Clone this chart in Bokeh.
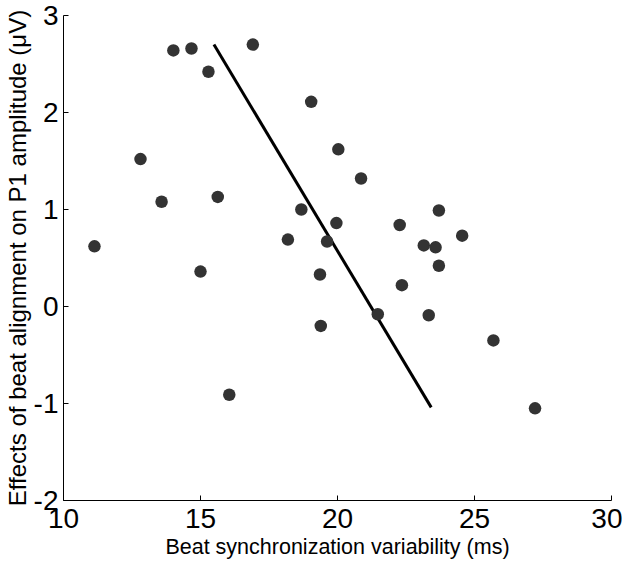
from bokeh.plotting import figure
from bokeh.models import Range1d, FixedTicker
from bokeh.embed import file_html
from bokeh.resources import INLINE

# Data
variability_ms = [11.13, 12.81, 13.58, 14.01, 14.67, 15.29, 15.00, 15.63, 16.05, 16.91,
                  19.04, 18.19, 18.68, 19.36, 19.39, 20.03, 20.86, 19.96, 19.62, 22.27,
                  23.70, 24.55, 23.15, 23.58, 23.70, 22.35, 21.47, 23.33, 25.69, 27.21]
p1_effect_uv = [0.62, 1.52, 1.08, 2.64, 2.66, 2.42, 0.36, 1.13, -0.91, 2.70,
                2.11, 0.69, 1.00, 0.33, -0.20, 1.62, 1.32, 0.86, 0.67, 0.84,
                0.99, 0.73, 0.63, 0.61, 0.42, 0.22, -0.08, -0.09, -0.35, -1.05]
fit_x = [15.49, 23.42]
fit_y = [2.70, -1.04]
x_ticks = [10, 15, 20, 25, 30]
y_ticks = [-2, -1, 0, 1, 2, 3]
y_tick_labels = ["-2", "-1", "0", "1", "2", "3"]

FONT = "Liberation Sans"

p = figure(width=622, height=568, output_backend="svg", toolbar_location=None,
           x_range=Range1d(10, 30), y_range=Range1d(-2, 3),
           min_border_left=63, min_border_right=11, min_border_top=15, min_border_bottom=68)

p.outline_line_color = None
p.xgrid.grid_line_color = None
p.ygrid.grid_line_color = None
p.background_fill_color = "white"
p.border_fill_color = "white"

p.line(fit_x, fit_y, line_color="black", line_width=3)
p.scatter(variability_ms, p1_effect_uv, size=12.5, fill_color="#333333", line_color=None)

for ax in (p.xaxis[0], p.yaxis[0]):
    ax.axis_line_color = "black"
    ax.axis_line_width = 1
    ax.major_tick_line_color = "black"
    ax.major_tick_in = 5
    ax.major_tick_out = 0
    ax.minor_tick_line_color = None
    ax.major_label_text_font = FONT
    ax.major_label_text_font_size = "28px"
    ax.major_label_text_color = "black"
    ax.axis_label_text_font = FONT
    ax.axis_label_text_font_style = "normal"
    ax.axis_label_text_color = "black"

p.xaxis[0].axis_label_text_font_size = "21.5px"
p.yaxis[0].axis_label_text_font_size = "24px"
p.xaxis[0].ticker = FixedTicker(ticks=x_ticks)
p.yaxis[0].ticker = FixedTicker(ticks=y_ticks)
p.yaxis[0].major_label_overrides = {t: s for t, s in zip(y_ticks, y_tick_labels)}
p.xaxis[0].axis_label = "Beat synchronization variability (ms)"
p.yaxis[0].axis_label = "Effects of beat alignment on P1 amplitude (μV)"
p.xaxis[0].major_label_standoff = 8
p.xaxis[0].axis_label_standoff = 4
p.yaxis[0].major_label_standoff = 5
p.yaxis[0].axis_label_standoff = 0

open("out.html", "w").write(file_html(p, INLINE))
